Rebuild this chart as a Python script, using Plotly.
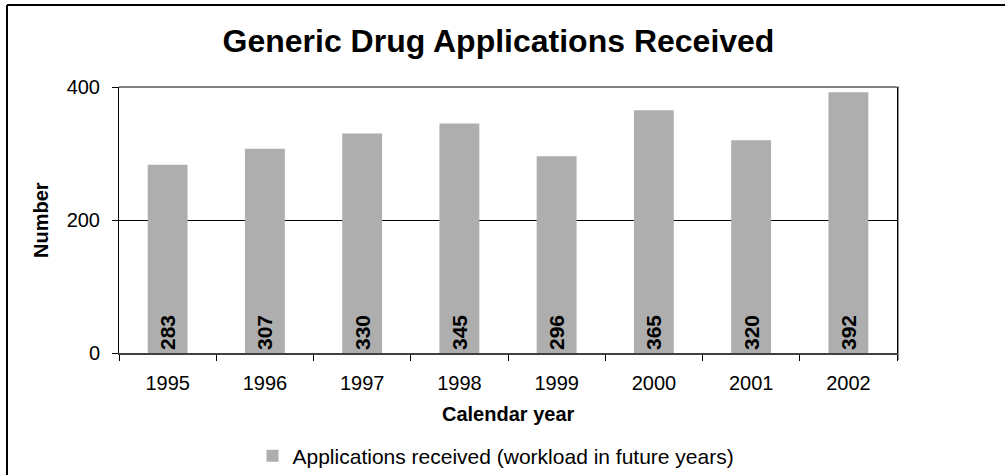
import plotly.graph_objects as go

years = ["1995", "1996", "1997", "1998", "1999", "2000", "2001", "2002"]
received = [283, 307, 330, 345, 296, 365, 320, 392]
series_name = "Applications received (workload in future years)"
y_ticks = [0, 200, 400]

FONT = "Liberation Sans, Arial, sans-serif"

fig = go.Figure()
fig.add_trace(go.Bar(
    x=years, y=received, name=series_name,
    marker=dict(color="#AEAEAE", line=dict(width=0)),
    text=[str(v) for v in received],
    textposition="inside", insidetextanchor="start", textangle=-90,
    textfont=dict(family=FONT, size=21, color="black", weight="bold"),
))

L, R, T, B = 119, 108, 87, 122
W, H = 1005, 475
pw, ph = W - L - R, H - T - B

def px_x(x):
    return (x - L) / pw

def px_y(y):
    return (H - B - y) / ph

fig.update_layout(
    width=W, height=H,
    margin=dict(l=L, r=R, t=T, b=B, autoexpand=False),
    paper_bgcolor="white", plot_bgcolor="white",
    font=dict(family=FONT, color="black"),
    bargap=0.59,
    showlegend=True,
    legend=dict(orientation="h", x=0.5 - 12 / pw, xanchor="center", y=px_y(456), yanchor="middle",
                font=dict(size=21), itemwidth=30),
    title=dict(text="<b>Generic Drug Applications Received</b>", x=0.496, xref="container",
               y=1 - 41 / H, yanchor="middle", xanchor="center",
               font=dict(size=32, family=FONT)),
    xaxis=dict(showline=True, linecolor="#404040", linewidth=2,
               ticks="outside", tickson="boundaries", ticklen=6, tickcolor="black",
               tickfont=dict(size=20), showgrid=False, ticklabelstandoff=11),
    yaxis=dict(range=[0, 400], tickvals=y_ticks, showline=True, linecolor="black", linewidth=1,
               mirror=True, ticks="outside", ticklen=6, tickcolor="black",
               tickfont=dict(size=20), showgrid=True, gridcolor="black", gridwidth=1,
               zeroline=False, ticklabelstandoff=8),
)

fig.add_annotation(text="<b>Number</b>", xref="paper", yref="paper", x=px_x(41), y=0.5,
                   textangle=-90, showarrow=False, font=dict(size=20),
                   xanchor="center", yanchor="middle")
fig.add_annotation(text="<b>Calendar year</b>", xref="paper", yref="paper", x=0.5, y=px_y(414),
                   showarrow=False, font=dict(size=20), xanchor="center", yanchor="middle")

# plot-area top border and right-side shadow
fig.add_shape(type="line", xref="paper", yref="paper", x0=0, x1=1, y0=1, y1=1,
              line=dict(color="black", width=1))
fig.add_shape(type="line", xref="paper", yref="paper", x0=px_x(898.5), x1=px_x(898.5),
              y0=px_y(86), y1=px_y(360), line=dict(color="#909090", width=1))
# outer chart border (top and left visible)
fig.add_shape(type="line", xref="paper", yref="paper", x0=px_x(7), x1=px_x(1010),
              y0=px_y(5), y1=px_y(5), line=dict(color="black", width=2))
fig.add_shape(type="line", xref="paper", yref="paper", x0=px_x(7), x1=px_x(7),
              y0=px_y(5), y1=px_y(480), line=dict(color="black", width=2))

fig.write_html("out.html")
